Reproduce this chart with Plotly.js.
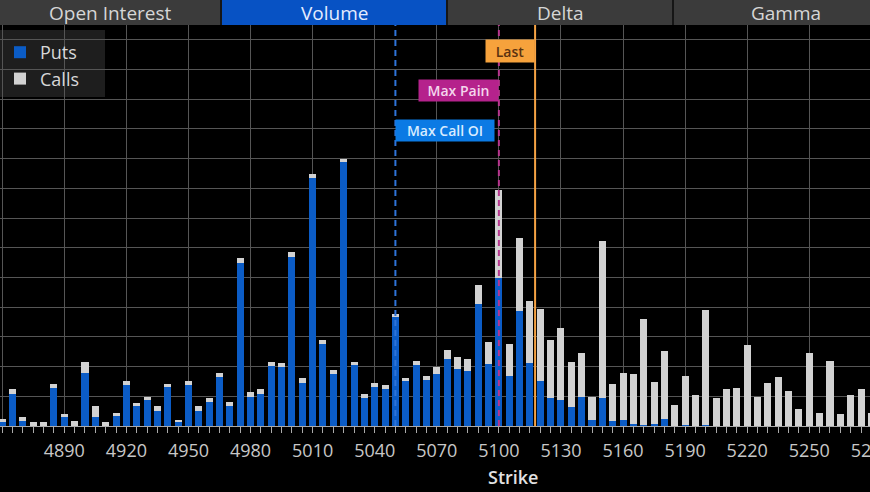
<!DOCTYPE html>
<html>
<head>
<meta charset="utf-8">
<script src="https://cdn.plot.ly/plotly-3.0.1.min.js"></script>
<style>
html,body{margin:0;padding:0;background:#000;overflow:hidden;width:870px;height:492px;}
#wrap{width:870px;height:492px;overflow:hidden;position:relative;}
#chart{width:900px;height:492px;}
</style>
</head>
<body>
<div id="wrap"><div id="chart"></div></div>
<script>
// ---- data ----
const strikes = [4860,4865,4870,4875,4880,4885,4890,4895,4900,4905,4910,4915,4920,4925,4930,4935,4940,4945,4950,4955,4960,4965,4970,4975,4980,4985,4990,4995,5000,5005,5010,5015,5020,5025,5030,5035,5040,5045,5050,5055,5060,5065,5070,5075,5080,5085,5090,5095,5100,5105,5110,5115,5120,5125,5130,5135,5140,5145,5150,5155,5160,5165,5170,5175,5180,5185,5190,5195,5200,5205,5210,5215,5220,5225,5230,5235,5240,5245,5250,5255,5260,5265,5270,5275,5280];
const puts = [130,1090,170,0,0,1280,300,0,1785,300,0,340,1365,670,890,520,1310,135,1365,520,810,1650,670,5490,990,1080,2020,1990,5690,1450,8350,2760,1750,8890,2050,940,1310,1230,3670,1515,2070,1565,1750,2255,1920,1850,4110,2090,4970,1670,3870,2120,1515,940,860,640,990,200,940,170,200,70,30,70,220,0,50,0,30,0,0,0,0,0,0,0,0,0,0,0,0,0,0,0,0];
const calls = [120,150,130,150,120,140,90,170,370,370,150,100,150,100,100,150,120,70,150,150,135,135,150,150,150,150,150,130,170,150,135,150,135,100,120,135,150,135,85,85,135,135,235,320,400,400,640,740,2980,1090,2460,2100,2425,1970,2440,1530,1465,790,5300,1245,1580,1680,3570,1410,2320,720,1650,1040,3860,940,1230,1280,2730,990,1450,1650,1180,570,2460,440,2200,390,1040,1230,440];
const tabs = ["Open Interest","Volume","Delta","Gamma"];
const maxCallOI = 5050;
const maxPain = 5100;
const lastPrice = 5117.5;

// ---- layout helpers (pixel -> paper) ----
const W = 900, H = 492, T = 25, B = 66;
const plotH = H - T - B;
const px = x => x / W;
const py = y => (H - B - y) / plotH;
const F = "Open Sans, Liberation Sans, sans-serif";

const traces = [
  {type:'bar', name:'Puts', x:strikes, y:puts,
   marker:{color:'#0b5cc6', line:{width:0}}, hoverinfo:'x+y'},
  {type:'bar', name:'Calls', x:strikes, y:calls,
   marker:{color:'#d2d2d2', line:{width:0}}, hoverinfo:'x+y'}
];

const tabEdges = [[-2,220],[222,446],[448,672],[674,898]];
const shapes = [
  {type:'rect', xref:'paper', yref:'paper', x0:0, x1:1, y0:py(25), y1:py(0), fillcolor:'#3b3b3b', line:{width:0}, layer:'below'},
  {type:'rect', xref:'paper', yref:'paper', x0:px(tabEdges[1][0]), x1:px(tabEdges[1][1]), y0:py(25), y1:py(0), fillcolor:'#0752c4', line:{width:0}, layer:'below'},
  // legend panel background
  {type:'rect', xref:'paper', yref:'paper', x0:0, x1:px(105), y0:py(97), y1:py(30), fillcolor:'#1e1e1e', line:{width:0}, layer:'between'}
];
[221, 447, 673].forEach(s => shapes.push({type:'line', xref:'paper', yref:'paper', x0:px(s), x1:px(s), y0:py(25), y1:py(0), line:{color:'#161616', width:2}, layer:'below'}));
shapes.push({type:'line', xref:'x', yref:'paper', x0:maxCallOI, x1:maxCallOI, y0:0, y1:1, line:{color:'#2f74da', width:2, dash:'6px,4px'}, layer:'above'});
shapes.push({type:'line', xref:'x', yref:'paper', x0:maxPain, x1:maxPain, y0:0, y1:1, line:{color:'#b8368f', width:2, dash:'6px,4px'}, layer:'above'});
shapes.push({type:'line', xref:'x', yref:'paper', x0:lastPrice, x1:lastPrice, y0:0, y1:1, line:{color:'#f5a244', width:2}, layer:'above'});

const annotations = [];
const tabCenters = [110, 334, 560, 786];
tabs.forEach((t,i) => annotations.push({text:t, xref:'paper', yref:'paper', x:px(tabCenters[i]), y:py(12.5), xanchor:'center', yanchor:'middle', showarrow:false, font:{family:F, size:19, color: i===1 ? '#e4ecff' : '#d6d6d6'}}));
annotations.push({text:'Last', xref:'x', yref:'paper', x:lastPrice, y:py(51), xanchor:'right', yanchor:'middle', showarrow:false, bgcolor:'#f6a23c', width:48, height:22, borderpad:0, font:{family:F, size:14, weight:600, color:'#5a3210'}});
annotations.push({text:'Max Pain', xref:'x', yref:'paper', x:maxPain, y:py(90.5), xanchor:'right', yanchor:'middle', showarrow:false, bgcolor:'#b5228c', width:79, height:21, borderpad:0, font:{family:F, size:14, weight:600, color:'#f4d6ec'}});
annotations.push({text:'Max Call OI', xref:'x', yref:'paper', x:maxCallOI, y:py(130.5), xanchor:'left', yanchor:'middle', showarrow:false, bgcolor:'#0b7ae4', width:98, height:21, borderpad:0, font:{family:F, size:14, weight:600, color:'#d8ecff'}});
annotations.push({text:'Strike', xref:'paper', yref:'paper', x:px(513), y:py(477), xanchor:'center', yanchor:'middle', showarrow:false, font:{family:F, size:18, weight:600, color:'#e2e2e2'}});

const pxPerStrike = 2.0694;
const x0Strike = 4890 - 64.3 / pxPerStrike;

const layout = {
  width: W, height: H,
  paper_bgcolor:'#000', plot_bgcolor:'#000',
  margin:{l:0, r:0, t:T, b:B, pad:0},
  barmode:'stack', bargap:0.32,
  showlegend:true,
  legend:{x:0, y:py(34), xanchor:'left', yanchor:'top', bgcolor:'rgba(0,0,0,0)', borderwidth:0,
          font:{family:F, size:18, color:'#d8d8d8'}, traceorder:'normal'},
  xaxis:{range:[x0Strike, x0Strike + W / pxPerStrike], tickmode:'linear', tick0:4890, dtick:30,
         showgrid:true, gridcolor:'#555', gridwidth:1, zeroline:false,
         ticks:'outside', ticklen:6, tickcolor:'#aaa', tickwidth:1,
         showline:true, linecolor:'#aaa', linewidth:1,
         tickfont:{family:F, size:18, color:'#c8c8c8'}, ticklabelstandoff:2,
         minor:{tick0:4890, dtick:5, ticks:'outside', ticklen:6, tickcolor:'#aaa', tickwidth:1, showgrid:false},
         fixedrange:true},
  yaxis:{range:[0,13500], tickmode:'linear', tick0:0, dtick:1000, showgrid:true, gridcolor:'#555', gridwidth:1,
         showticklabels:false, zeroline:false, ticks:'', fixedrange:true},
  shapes: shapes,
  annotations: annotations
};

Plotly.newPlot('chart', traces, layout, {displayModeBar:false, staticPlot:true});
</script>
</body>
</html>
